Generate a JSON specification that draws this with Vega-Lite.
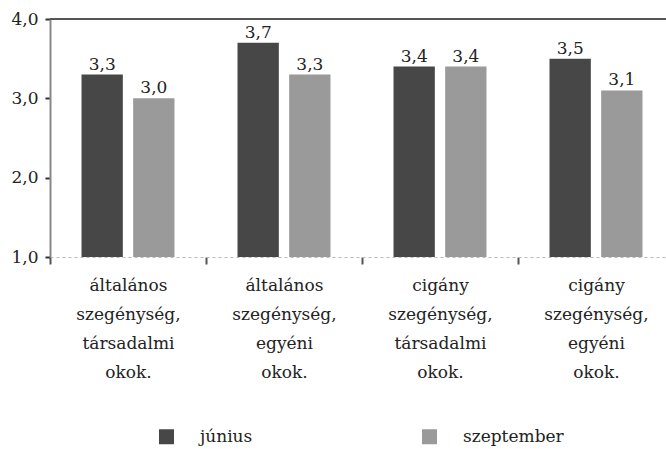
{
  "$schema": "https://vega.github.io/schema/vega-lite/v6.json",
  "width": 624,
  "height": 238,
  "autosize": "none",
  "padding": {"left": 50, "top": 19, "right": 0, "bottom": 192},
  "background": "white",
  "config": {
    "locale": {"number": {"decimal": ",", "thousands": " ", "grouping": [3], "currency": ["", ""]}},
    "font": "DejaVu Serif",
    "view": {"stroke": null}
  },
  "data": {
    "values": [
      {"kat": "általános szegénység, társadalmi okok.", "ido": "június", "ertek": 3.3},
      {"kat": "általános szegénység, társadalmi okok.", "ido": "szeptember", "ertek": 3.0},
      {"kat": "általános szegénység, egyéni okok.", "ido": "június", "ertek": 3.7},
      {"kat": "általános szegénység, egyéni okok.", "ido": "szeptember", "ertek": 3.3},
      {"kat": "cigány szegénység, társadalmi okok.", "ido": "június", "ertek": 3.4},
      {"kat": "cigány szegénység, társadalmi okok.", "ido": "szeptember", "ertek": 3.4},
      {"kat": "cigány szegénység, egyéni okok.", "ido": "június", "ertek": 3.5},
      {"kat": "cigány szegénység, egyéni okok.", "ido": "szeptember", "ertek": 3.1}
    ]
  },
  "layer": [
    {
      "mark": {"type": "bar"},
      "encoding": {
        "x": {
          "field": "kat", "type": "nominal", "sort": null,
          "scale": {"paddingInner": 0, "paddingOuter": 0},
          "axis": {
            "title": null, "labelAngle": 0,
            "labelExpr": "split(datum.label, ' ')",
            "labelFontSize": 17, "labelLineHeight": 29, "labelColor": "#222",
            "labelPadding": 13, "labelBaseline": "top",
            "tickBand": "extent", "tickSize": 7, "tickWidth": 2, "tickColor": "#555",
            "domainColor": "#bbb", "domainDash": [3, 3], "domainWidth": 1,
            "grid": false
          }
        },
        "xOffset": {"field": "ido", "type": "nominal", "sort": ["június", "szeptember"], "scale": {"paddingInner": 0.2, "paddingOuter": 0.61}},
        "y": {
          "field": "ertek", "type": "quantitative",
          "scale": {"domain": [1, 4], "zero": false, "nice": false},
          "axis": {
            "title": null, "values": [1, 2, 3, 4], "format": ".1f",
            "labelFontSize": 17, "labelColor": "#222", "labelPadding": 7,
            "tickSize": 5, "tickWidth": 2, "tickColor": "#333",
            "domainColor": "#888", "domainWidth": 2, "grid": false
          }
        },
        "y2": {"datum": 1},
        "color": {
          "field": "ido", "type": "nominal",
          "scale": {"domain": ["június", "szeptember"], "range": ["#474747", "#9a9a9a"]},
          "legend": {
            "title": null, "orient": "none", "legendX": 108, "legendY": 409,
            "direction": "horizontal", "symbolType": "square", "symbolSize": 225,
            "symbolStrokeWidth": 0, "labelFontSize": 17, "labelColor": "#222",
            "labelOffset": 25, "columnPadding": 168
          }
        }
      }
    },
    {
      "mark": {"type": "text", "baseline": "bottom", "dy": -1, "fontSize": 17, "color": "#222"},
      "encoding": {
        "x": {"field": "kat", "type": "nominal", "sort": null},
        "xOffset": {"field": "ido", "type": "nominal", "sort": ["június", "szeptember"]},
        "y": {"field": "ertek", "type": "quantitative"},
        "text": {"field": "ertek", "type": "quantitative", "format": ".1f"}
      }
    },
    {
      "data": {"values": [{"felso": 4}]},
      "mark": {"type": "rule", "color": "#555", "strokeWidth": 2},
      "encoding": {
        "y": {"field": "felso", "type": "quantitative"}
      }
    }
  ]
}
